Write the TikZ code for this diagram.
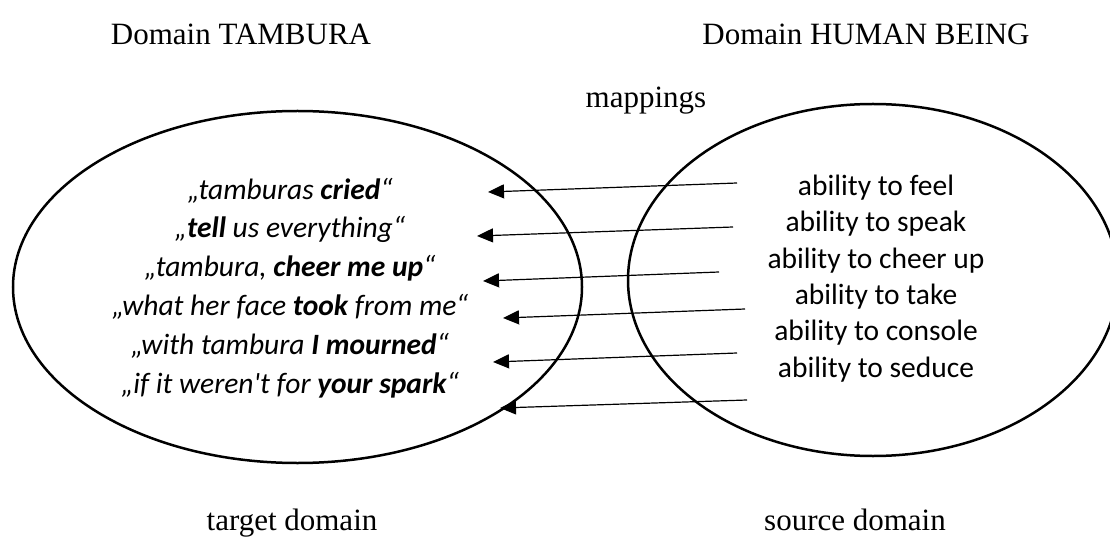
\documentclass[tikz,border=0pt]{standalone}
\usepackage{fontspec}
\setmainfont{Liberation Serif}
\newfontfamily\calfont[Ligatures=ResetAll]{Carlito}
\usetikzlibrary{shapes.geometric,arrows.meta,positioning}

\begin{document}
\begin{tikzpicture}[
      x=1pt, y=-1pt,
      domshape/.style={ellipse, draw=black, line width=2.5pt, inner sep=0pt},
      heading/.style={font=\fontsize{31}{36}\selectfont, inner sep=0pt, anchor=base},
      quotes/.style={font=\calfont\itshape\fontsize{29.5}{38.8}\selectfont,
        align=center, inner sep=0pt, anchor=base},
      abilities/.style={font=\calfont\fontsize{29.5}{36.3}\selectfont,
        align=center, inner sep=0pt, anchor=base},
      maparrow/.style={line width=1.2pt, -{Triangle[length=16pt,width=14pt]}}
      ]
      \useasboundingbox (0,0) rectangle (1110,553);

      % the two domains
      \node[domshape, minimum width=569pt, minimum height=352pt] (tgt) at (297.5,287) {};
      \node[domshape, minimum width=490pt, minimum height=352pt] (src) at (873,280) {};

      \node[heading] (tgtname) at (241,45) {Domain TAMBURA};
      \node[heading] (srcname) at (866,45) {Domain HUMAN BEING};
      \node[heading] (maps) at (646,108) {mappings};
      \node[heading] (tgtlabel) at (292,530) {target domain};
      \node[heading] (srclabel) at (855,530) {source domain};

      % texts sit on the baseline of their last line
      \node[quotes] (verses) at (290,393) {%
        „tamburas \textbf{cried}“\\
        „\textbf{tell} us everything“\\
        „tambura, \textbf{cheer me up}“\\
        „what her face \textbf{took} from me“\\
        „with tambura \textbf{I mourned}“\\
        „if it weren't for \textbf{your spark}“};

      \node[abilities] (traits) at (876,377) {%
        ability to feel\\
        ability to speak\\
        ability to cheer up\\
        ability to take\\
        ability to console\\
        ability to seduce};

      % mapping arrows
      \coordinate (m1) at (737,183); \coordinate (q1) at (488,192);
      \coordinate (m2) at (733,227); \coordinate (q2) at (477,236);
      \coordinate (m3) at (719,272); \coordinate (q3) at (483,281);
      \coordinate (m4) at (745,309); \coordinate (q4) at (503,318);
      \coordinate (m5) at (737,353); \coordinate (q5) at (493,362);
      \coordinate (m6) at (747,400); \coordinate (q6) at (500,408);

      \draw[maparrow] (m1) -- (q1);
      \draw[maparrow] (m2) -- (q2);
      \draw[maparrow] (m3) -- (q3);
      \draw[maparrow] (m4) -- (q4);
      \draw[maparrow] (m5) -- (q5);
      \draw[maparrow] (m6) -- (q6);

\end{tikzpicture}
\end{document}
